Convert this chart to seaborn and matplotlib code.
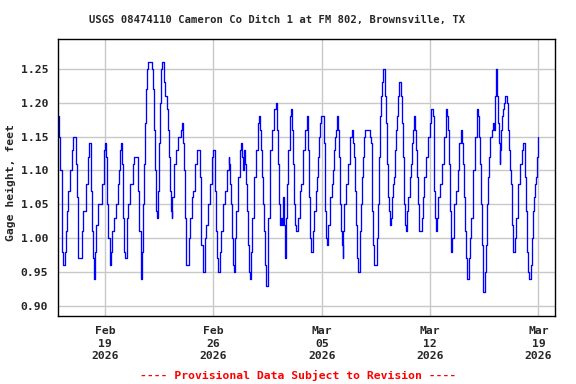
import matplotlib
matplotlib.use("Agg")
import matplotlib.pyplot as plt
import seaborn as sns
import pandas as pd

# ---- data (hours since 2026-02-16 00:00, gage height in feet) ----
hours = [
    0, 0.7, 2.2, 4.8, 5.8, 6.9, 8.9, 9.5, 11.0, 12.6, 15.1, 17.7, 20.8, 22.4, 24.5,
    26.5, 28.1, 29.6, 30.7, 33.8, 35.8, 38.4, 42.0, 45.6, 47.2, 49.3,
    50.8, 52.4, 53.9, 55.0, 56.5, 57.0, 58.6, 61.7, 63.7, 66.8, 70.0, 71.5,
    73.1, 74.6, 75.6, 77.2, 79.8, 80.8, 82.4, 85.5, 88.6, 91.7, 93.7, 95.3, 96.3,
    97.9, 99.9, 101.5, 102.5, 103.6, 105.6, 107.2, 110.3, 112.3, 115.4, 117.0, 122.2,
    123.7, 125.3, 127.3, 128.4, 129.9, 131.5, 133.0, 134.6, 136.1, 137.7, 139.2, 144.4,
    145.4, 146.5, 148.0, 149.6, 150.6, 152.2, 153.7, 155.8, 157.3, 158.9, 160.4, 162.0,
    163.5, 165.1, 168.2, 169.7, 171.3, 172.8, 174.4, 175.4, 176.5, 179.6, 182.7, 185.8,
    188.9, 190.4, 192.0, 193.1, 194.6, 196.2, 197.2, 198.2, 200.8, 201.9, 203.4, 206.5,
    208.6, 211.7, 213.8, 216.8, 218.9, 220.0, 221.5, 223.1, 225.6, 226.7, 228.2, 231.3,
    234.4, 237.5, 239.1, 241.2, 242.2, 243.2, 244.3, 245.8, 247.4, 248.9, 249.9, 251.5,
    254.6, 257.2, 260.3, 263.4, 264.4, 266.0, 267.5, 269.1, 270.6, 271.7, 273.2, 274.2,
    275.8, 278.9, 282.0, 283.5, 284.6, 286.1, 287.7, 289.2, 290.8, 292.3, 293.9, 295.4,
    297.0, 298.0, 299.6, 302.7, 305.8, 308.9, 310.4, 312.0, 313.5, 315.1, 316.6, 318.2,
    319.7, 321.3, 322.8, 323.9, 325.4, 327.0, 328.5, 330.1, 333.2, 334.7, 336.3, 337.8,
    338.9, 340.4, 342.0, 343.5, 345.1, 346.6, 348.2, 349.7, 351.3, 352.3, 353.9, 355.4,
    358.5, 360.1, 361.6, 363.2, 364.7, 366.3, 367.8, 369.9, 370.9, 374.0, 375.6, 379.2,
    382.3, 384.4, 386.0, 387.0, 388.6, 390.1, 391.2, 392.7, 394.3, 395.8, 398.9, 401.0,
    402.5, 404.1, 405.6, 407.2, 409.8, 410.8, 412.4, 413.4, 414.9, 416.5, 418.0, 421.1,
    424.2, 425.8, 427.3, 428.9, 430.4, 432.0, 433.0, 434.1, 435.6, 437.2, 438.7, 440.3,
    441.3, 442.9, 446.0, 449.1, 452.2, 455.3, 456.8, 458.4, 459.9, 461.5, 463.0, 464.6,
    466.1, 467.2, 468.7, 470.3, 471.8, 473.4, 474.9, 481.6, 482.2, 483.7, 485.3, 486.3,
    487.8, 488.9, 493.0, 494.0, 495.6, 497.1, 498.7, 500.2, 501.8, 503.3, 504.9, 505.9,
    507.5, 509.0, 510.6, 512.1, 513.7, 515.8, 517.3, 518.9, 520.4, 522.0, 523.5, 525.1,
    526.6, 528.2, 530.2, 531.3, 532.8, 534.4, 535.4, 537.0, 539.0, 540.6, 542.1, 545.2,
    546.8, 548.3, 549.9, 551.4, 553.0, 554.5, 556.1, 557.6, 559.2, 560.2, 561.8, 562.8,
    564.4, 565.9, 569.0, 572.1, 575.2, 576.8, 580.4, 581.4, 582.4, 584.0, 585.0, 586.6,
    587.6, 590.7, 593.8, 596.9, 600.0, 601.0, 602.6, 604.1, 605.2, 606.7, 607.8, 608.8,
    610.3, 613.4, 616.5, 618.1, 619.6, 621.2, 624.3, 625.9, 627.4, 629.0, 630.5, 632.1,
    633.6, 634.6, 635.7, 637.2, 638.8, 641.9, 645.0, 648.1, 649.6, 651.2, 652.7, 654.3,
    655.8, 657.4, 658.4, 660.5, 661.5, 663.1, 664.6, 666.2, 667.7, 669.3, 670.8, 672.4,
    673.9, 675.5, 677.0, 678.1, 679.1, 679.6, 681.2, 682.7, 683.8, 684.8, 686.3, 687.9,
    689.4, 691.0, 692.5, 694.6, 695.6, 697.2, 698.7, 700.3, 701.9, 703.4, 705.0, 706.0,
    707.5, 709.1, 712.2, 715.3, 718.4, 719.9, 721.5, 722.5, 723.6, 725.1, 726.7, 728.2,
    729.3, 730.8, 731.8, 733.4, 734.9, 736.5, 738.0, 739.6, 741.1, 742.7, 743.7,
]
gage_ft = [
    1.18, 1.15, 1.10, 1.05, 0.98, 0.96, 0.96, 0.98, 1.01, 1.04, 1.07, 1.10, 1.13, 1.15, 1.15,
    1.11, 1.06, 1.01, 0.97, 0.97, 1.01, 1.04, 1.08, 1.12, 1.14, 1.14,
    1.07, 1.01, 0.97, 0.94, 0.94, 0.98, 1.02, 1.05, 1.05, 1.08, 1.13, 1.14,
    1.12, 1.09, 1.05, 1.00, 0.96, 0.98, 1.01, 1.03, 1.05, 1.08, 1.10, 1.13, 1.14,
    1.11, 1.03, 0.98, 0.97, 0.97, 1.03, 1.05, 1.08, 1.08, 1.11, 1.12, 1.12,
    1.07, 1.01, 0.97, 0.94, 0.98, 1.05, 1.11, 1.17, 1.22, 1.25, 1.26, 1.26,
    1.25, 1.22, 1.16, 1.10, 1.04, 1.03, 1.07, 1.14, 1.20, 1.25, 1.26, 1.26,
    1.23, 1.21, 1.19, 1.16, 1.12, 1.07, 1.04, 1.03, 1.06, 1.11, 1.13, 1.15,
    1.15, 1.16, 1.17, 1.14, 1.10, 1.03, 0.97, 0.96, 0.96, 1.00, 1.03, 1.06,
    1.07, 1.11, 1.13, 1.13, 1.09, 1.05, 0.99, 0.95, 0.95, 1.00, 1.02, 1.05,
    1.08, 1.12, 1.13, 1.13, 1.11, 1.07, 1.01, 0.97, 0.95, 0.95, 0.98, 1.01,
    1.05, 1.07, 1.10, 1.12, 1.11, 1.08, 1.05, 1.00, 0.96, 0.95, 0.95, 1.00,
    1.04, 1.09, 1.13, 1.14, 1.12, 1.10, 1.13, 1.11, 1.08, 1.04, 0.99, 0.95,
    0.94, 0.98, 1.03, 1.09, 1.13, 1.17, 1.18, 1.16, 1.13, 1.09, 1.05, 1.01,
    0.96, 0.93, 0.93, 0.98, 1.03, 1.08, 1.13, 1.16, 1.17, 1.19, 1.20, 1.20,
    1.16, 1.11, 1.05, 1.02, 1.03, 1.02, 1.06, 1.02, 0.97, 1.03, 1.08, 1.13,
    1.18, 1.19, 1.16, 1.11, 1.05, 1.02, 1.01, 1.01, 1.03, 1.07, 1.08, 1.13,
    1.16, 1.18, 1.16, 1.13, 1.06, 1.00, 0.98, 0.98, 1.01, 1.04, 1.07, 1.09,
    1.12, 1.15, 1.17, 1.18, 1.18, 1.14, 1.09, 1.04, 1.00, 0.99, 1.02, 1.06,
    1.08, 1.10, 1.13, 1.15, 1.16, 1.18, 1.16, 1.12, 1.05, 1.01, 0.99, 0.97,
    1.01, 1.05, 1.08, 1.11, 1.15, 1.16, 1.14, 1.12, 1.07, 1.02, 0.97, 0.95,
    0.95, 1.01, 1.05, 1.09, 1.12, 1.15, 1.16, 1.16, 1.15, 1.14, 1.11, 1.04,
    0.99, 0.96, 0.96, 1.00, 1.05, 1.12, 1.18, 1.21, 1.23, 1.25, 1.25, 1.21,
    1.17, 1.11, 1.06, 1.04, 1.02, 1.03, 1.06, 1.08, 1.09, 1.13, 1.16, 1.18,
    1.21, 1.23, 1.22, 1.21, 1.17, 1.12, 1.05, 1.02, 1.01, 1.04, 1.06, 1.09,
    1.11, 1.14, 1.16, 1.18, 1.16, 1.13, 1.09, 1.05, 1.01, 1.01, 1.01, 1.03,
    1.06, 1.09, 1.12, 1.15, 1.17, 1.19, 1.18, 1.13, 1.07, 1.03, 1.01, 1.03,
    1.06, 1.08, 1.11, 1.15, 1.18, 1.19, 1.18, 1.16, 1.11, 1.04, 0.99, 0.98,
    1.00, 1.05, 1.07, 1.07, 1.10, 1.14, 1.16, 1.14, 1.11, 1.06, 1.01, 0.97,
    0.94, 0.94, 0.97, 1.00, 1.03, 1.10, 1.15, 1.19, 1.18, 1.15, 1.11, 1.05,
    0.99, 0.94, 0.92, 0.92, 0.95, 0.99, 1.05, 1.09, 1.12, 1.15, 1.15, 1.16,
    1.17, 1.16, 1.21, 1.25, 1.25, 1.21, 1.17, 1.14, 1.11, 1.13, 1.16, 1.18,
    1.19, 1.20, 1.21, 1.21, 1.20, 1.16, 1.13, 1.10, 1.08, 1.02, 0.98, 0.98,
    1.00, 1.03, 1.08, 1.11, 1.13, 1.14, 1.14, 1.13, 1.09, 1.04, 0.98, 0.95,
    0.94, 0.94, 0.96, 1.00, 1.04, 1.06, 1.08, 1.09, 1.12, 1.14, 1.15,
]
tick_dates = ["2026-02-19", "2026-02-26", "2026-03-05", "2026-03-12", "2026-03-19"]
tick_labels = ["Feb\n19\n2026", "Feb\n26\n2026", "Mar\n05\n2026", "Mar\n12\n2026", "Mar\n19\n2026"]
y_ticks = [0.90, 0.95, 1.00, 1.05, 1.10, 1.15, 1.20, 1.25]

start = pd.Timestamp("2026-02-16 00:00")
df = pd.DataFrame({
    "time": start + pd.to_timedelta(hours, unit="h"),
    "gage": gage_ft,
})

sns.set_style("white")
mono = ["DejaVu Sans Mono"]
plt.rcParams["font.family"] = mono
plt.rcParams["font.weight"] = "bold"

fig = plt.figure(figsize=(5.76, 3.84), dpi=100)
ax = fig.add_axes([58 / 576, 1 - 316 / 384, (555 - 58) / 576, (316 - 39) / 384])

sns.lineplot(data=df, x="time", y="gage", ax=ax, color="#0000ff",
             linewidth=0.95, drawstyle="steps-post", estimator=None, sort=False)

ax.set_xlim(start - pd.Timedelta(hours=1.0), start + pd.Timedelta(hours=769.7))
ax.set_ylim(0.885, 1.294)

ax.set_xticks([pd.Timestamp(d) for d in tick_dates])
ax.set_xticklabels(tick_labels, fontsize=8.2, fontweight="bold", linespacing=1.36)
ax.set_yticks(y_ticks)
ax.set_yticklabels([f"{v:.2f}" for v in y_ticks], fontsize=8.2, fontweight="bold")
ax.tick_params(axis="both", length=0)
ax.tick_params(axis="x", pad=7)
ax.tick_params(axis="y", pad=7)

ax.grid(True, color="#c8c8c8", linewidth=1.0)
ax.set_axisbelow(True)
for s in ax.spines.values():
    s.set_visible(True)
    s.set_color("black")
    s.set_linewidth(1.0)

ax.set_xlabel("")
ax.set_ylabel("Gage height, feet", fontsize=8.2, fontweight="bold")
ax.yaxis.set_label_coords(-(58 - 16.5) / (555 - 58), (316 - 183) / (316 - 39))

fig.text(277 / 576, 1 - 20 / 384, "USGS 08474110 Cameron Co Ditch 1 at FM 802, Brownsville, TX",
         ha="center", va="center", fontsize=7.6, fontweight="bold", family=mono)
fig.text(298 / 576, 1 - 375 / 384, "---- Provisional Data Subject to Revision ----",
         ha="center", va="center", fontsize=8.2, fontweight="bold", color="#ff0000", family=mono)

fig.savefig("out.png", dpi=100)
